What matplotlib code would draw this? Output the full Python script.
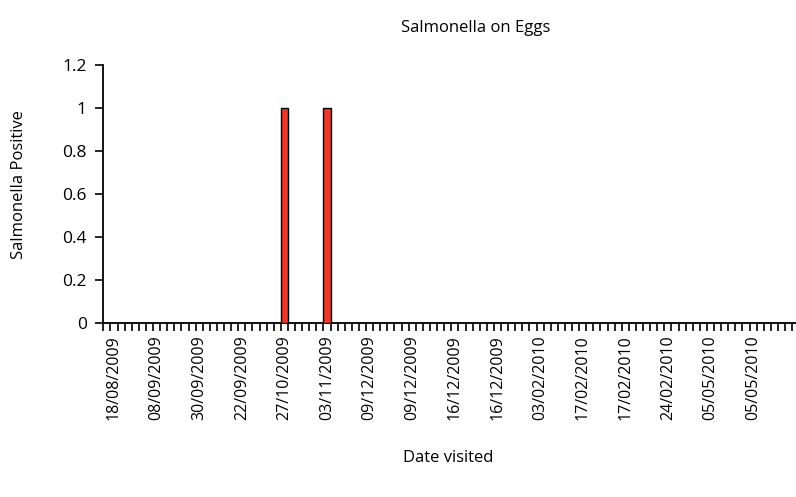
import matplotlib
matplotlib.use("Agg")
import matplotlib.pyplot as plt
import numpy as np

plt.rcParams['font.family'] = ['Open Sans', 'DejaVu Sans']

# one entry per visit (98 visits), 1 = salmonella positive
positive = [
    0, 0, 0, 0, 0, 0, 0, 0, 0, 0,
    0, 0, 0, 0, 0, 0, 0, 0, 0, 0,
    0, 0, 0, 0, 0, 1, 0, 0, 0, 0,
    0, 1, 0, 0, 0, 0, 0, 0, 0, 0,
    0, 0, 0, 0, 0, 0, 0, 0, 0, 0,
    0, 0, 0, 0, 0, 0, 0, 0, 0, 0,
    0, 0, 0, 0, 0, 0, 0, 0, 0, 0,
    0, 0, 0, 0, 0, 0, 0, 0, 0, 0,
    0, 0, 0, 0, 0, 0, 0, 0, 0, 0,
    0, 0, 0, 0, 0, 0, 0, 0,
]

# visit index -> date shown on the axis
label_idx = [1, 7, 13, 19, 25, 31, 37, 43, 49, 55, 61, 67, 73, 79, 85, 91]
label_txt = ["18/08/2009", "08/09/2009", "30/09/2009", "22/09/2009",
             "27/10/2009", "03/11/2009", "09/12/2009", "09/12/2009",
             "16/12/2009", "16/12/2009", "03/02/2010", "17/02/2010",
             "17/02/2010", "24/02/2010", "05/05/2010", "05/05/2010"]

yticks = [0, 0.2, 0.4, 0.6, 0.8, 1, 1.2]
ylabels = ["0", "0.2", "0.4", "0.6", "0.8", "1", "1.2"]

W, H = 796, 497
fig = plt.figure(figsize=(W / 100, H / 100), dpi=100)
ax = fig.add_axes([103.3 / W, (H - 323) / H, 696 / W, 258 / H])

n = len(positive)
x = np.arange(n)
ax.bar(x, positive, width=1.0, color="#e8392a", edgecolor="black",
       linewidth=1.0, zorder=3)

ax.set_xlim(-0.5, n - 0.5)
ax.set_ylim(0, 1.2)

for s in ["top", "right"]:
    ax.spines[s].set_visible(False)
for s in ["left", "bottom"]:
    ax.spines[s].set_linewidth(1.3)
    ax.spines[s].set_color("black")

ax.set_yticks(yticks)
ax.set_yticklabels(ylabels, fontsize=12.5)
ax.tick_params(axis="y", direction="out", length=6, width=1.2, pad=6)

ax.set_xticks(label_idx)
ax.set_xticklabels(label_txt, rotation=90, fontsize=11.5)
ax.tick_params(axis="x", which="major", length=0, pad=9)
ax.set_xticks(np.arange(n + 1) - 0.5, minor=True)
ax.tick_params(axis="x", which="minor", direction="out", length=6, width=1.2)

ax.set_ylabel("Salmonella Positive", fontsize=12)
ax.set_xlabel("Date visited", fontsize=12)
ax.xaxis.set_label_coords((448 - 103.3) / 696, -(450 - 323) / 258)
ax.yaxis.set_label_coords(-(103.3 - 27) / 696, (323 - 185) / 258)

fig.text(476 / W, 1 - 28 / H, "Salmonella on Eggs", ha="center", va="center",
         fontsize=12)

fig.savefig("out.png", dpi=100)
